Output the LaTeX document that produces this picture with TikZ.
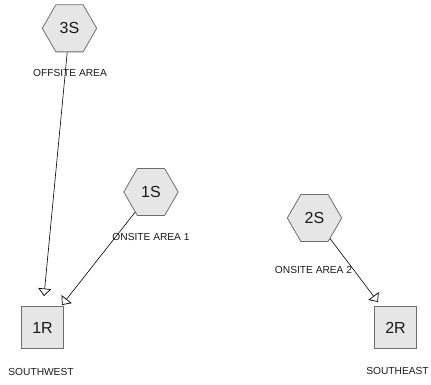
\documentclass[tikz,border=0pt]{standalone}
\usepackage{fontspec}
\setmainfont{Liberation Sans}
\usetikzlibrary{shapes.geometric,arrows.meta}
\definecolor{shapefill}{HTML}{E6E6E6}
\definecolor{shapeline}{HTML}{6E6E6E}
\definecolor{txt}{HTML}{1A1A1A}
\tikzset{
  hexnode/.style={regular polygon, regular polygon sides=6, minimum size=54.4pt, inner sep=0pt,
    draw=shapeline, fill=shapefill, line width=0.8pt, text=txt, font=\fontsize{16}{16}\selectfont},
  sqnode/.style={rectangle, minimum size=41.6pt, inner sep=0pt,
    draw=shapeline, fill=shapefill, line width=0.8pt, text=txt, font=\fontsize{16}{16}\selectfont},
  lbl/.style={text=txt, inner sep=0pt, font=\fontsize{10.2}{10.2}\selectfont},
  conn/.style={draw=black, line width=0.6pt, -{Triangle[open, length=7.5pt, width=13pt, line width=0.7pt]}}
}
\begin{document}
\begin{tikzpicture}[x=1pt,y=-1pt]
\useasboundingbox (0,0) rectangle (431,385);
\node[hexnode] (s3) at (69.5,28.3) {3S};
\node[hexnode] (s1) at (151,192) {1S};
\node[hexnode] (s2) at (314.5,218) {2S};
\node[sqnode] (r1) at (42.5,327.5) {1R};
\node[sqnode] (r2) at (395.5,327.5) {2R};
\draw[conn] (s3) -- ([shift={(1.5,-31.5)}]r1.center);
\draw[conn] (s1) -- ([shift={(19.5,-22.5)}]r1.center);
\draw[conn] (s2) -- ([shift={(-17.5,-25.5)}]r2.center);
\node[lbl] (l3) at (70,73) {OFFSITE AREA};
\node[lbl] (l1) at (151,237) {ONSITE AREA 1};
\node[lbl] (l2) at (313.5,269.5) {ONSITE AREA 2};
\node[lbl] (lsw) at (41,372) {SOUTHWEST};
\node[lbl] (lse) at (397.5,371) {SOUTHEAST};
\end{tikzpicture}
\end{document}
